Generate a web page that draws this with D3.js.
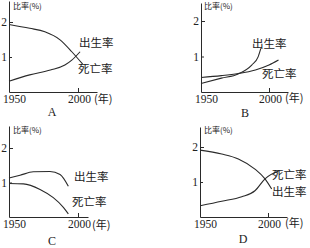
<!DOCTYPE html>
<html><head><meta charset="utf-8">
<script src="https://cdn.jsdelivr.net/npm/d3@7"></script>
<style>
html,body{margin:0;padding:0;background:#fff;}
svg{display:block;}
.cn{font-family:"Noto Sans CJK SC","Noto Sans",sans-serif;fill:#222;}
.num{font-family:"Liberation Serif","DejaVu Serif",serif;fill:#222;}
</style>
</head><body>
<svg id="c" width="310" height="248"></svg>
<script>
// ---- data ----
const panelLetters = ["A", "B", "C", "D"];
const yTickValues = [1, 2];
const xTickValues = [1950, 2000];
const yearUnitLabel = "(年)";
const yAxisTitle = "比率(%)";
const birthLabel = "出生率";
const deathLabel = "死亡率";

// Panel A
const aBirthYears = [1950, 1965, 1980, 1990.5, 1995.5, 2001.5];
const aBirthValues = [0.31, 0.49, 0.63, 0.77, 0.91, 1.15];
const aDeathYears = [1950, 1965, 1976, 1987, 1995.5, 2003.3];
const aDeathValues = [1.93, 1.82, 1.72, 1.49, 1.15, 0.8];
// Panel B
const bBirthYears = [1950, 1965, 1977.4, 1987.3, 1992, 1994];
const bBirthValues = [0.24, 0.39, 0.51, 0.76, 0.99, 1.23];
const bDeathYears = [1950, 1965, 1977.4, 1990, 2000, 2007];
const bDeathValues = [0.41, 0.46, 0.52, 0.62, 0.76, 0.9];
// Panel C
const cBirthYears = [1950, 1958, 1967.6, 1979.7, 1987, 1993];
const cBirthValues = [1.13, 1.21, 1.31, 1.32, 1.23, 0.89];
const cDeathYears = [1950, 1960.4, 1972.5, 1982.1, 1989.4, 1993];
const cDeathValues = [0.97, 0.96, 0.8, 0.56, 0.28, 0.09];
// Panel D
const dBirthYears = [1950, 1966, 1978.2, 1990.4, 1997.8, 2002.7];
const dBirthValues = [1.91, 1.8, 1.66, 1.37, 1.09, 0.8];
const dDeathYears = [1950, 1966, 1980.7, 1990.4, 1997.8, 2008];
const dDeathValues = [0.32, 0.45, 0.58, 0.75, 1.09, 1.32];

// ---- layout ----
const panels = [
  {letter: panelLetters[0], ox: 9, oy: 92, x2000: 78, xEnd: 97, y2: 22, top: 1,
   series: [[aBirthYears, aBirthValues], [aDeathYears, aDeathValues]],
   labels: [[birthLabel, 79, 46.5], [deathLabel, 78, 73]],
   title: [13, 8.7], unit: [94, 103], letterPos: [52, 116]},
  {letter: panelLetters[1], ox: 201, oy: 92, x2000: 269, xEnd: 288, y2: 21, top: 3,
   series: [[bBirthYears, bBirthValues], [bDeathYears, bDeathValues]],
   labels: [[birthLabel, 252, 47.5], [deathLabel, 262, 77.5]],
   title: [204, 8.7], unit: [285, 102], letterPos: [245, 116.5]},
  {letter: panelLetters[2], ox: 9, oy: 217, x2000: 78, xEnd: 88, y2: 148, top: 126,
   series: [[cBirthYears, cBirthValues], [cDeathYears, cDeathValues]],
   labels: [[birthLabel, 74, 180.5], [deathLabel, 72, 205.5]],
   title: [13, 133], unit: [92, 229], letterPos: [52, 244.5]},
  {letter: panelLetters[3], ox: 200, oy: 217, x2000: 268, xEnd: 287, y2: 147, top: 127,
   series: [[dBirthYears, dBirthValues], [dDeathYears, dDeathValues]],
   labels: [[deathLabel, 272, 179], [birthLabel, 272, 196]],
   title: [204, 133], unit: [285, 227], letterPos: [243, 243]}
];

const svg = d3.select("#c");
const ink = "#2a2a2a";

panels.forEach(p => {
  const g = svg.append("g");
  const x = d3.scaleLinear().domain([1950, 2000]).range([p.ox, p.x2000]);
  const y = d3.scaleLinear().domain([0, 2]).range([p.oy, p.y2]);

  // axes (extended domains so axis lines reach their ends)
  const xAx = x.copy().domain([1950, x.invert(p.xEnd)]).range([p.ox, p.xEnd]);
  const yAx = y.copy().domain([0, y.invert(p.top)]).range([p.oy, p.top]);

  const gx = g.append("g").attr("transform", `translate(0,${p.oy})`)
    .call(d3.axisBottom(xAx).tickValues(xTickValues).tickFormat(d3.format("d"))
      .tickSizeInner(-4).tickSizeOuter(0).tickPadding(3));
  gx.select(".domain").attr("stroke", ink);
  gx.selectAll(".tick line").attr("stroke", ink);
  gx.selectAll(".tick text").attr("class", "num").attr("font-size", 11.5)
    .attr("font-family", null).attr("fill", null)
    .attr("dx", d => d === 1950 ? 5 : 1);

  const gy = g.append("g").attr("transform", `translate(${p.ox},0)`)
    .call(d3.axisLeft(yAx).tickValues(yTickValues).tickFormat(d3.format("d"))
      .tickSizeInner(-4).tickSizeOuter(0).tickPadding(2));
  gy.select(".domain").attr("stroke", ink);
  gy.selectAll(".tick line").attr("stroke", ink);
  gy.selectAll(".tick text").attr("class", "num").attr("font-size", 11.5)
    .attr("font-family", null).attr("fill", null);
  gy.selectAll(".tick").filter(d => d === 1).select("line").attr("x2", 3);

  const line = d3.line().x(d => x(d[0])).y(d => y(d[1])).curve(d3.curveMonotoneX);
  p.series.forEach(([yrs, vals]) => {
    g.append("path").datum(yrs.map((yr, i) => [yr, vals[i]]))
      .attr("d", line).attr("fill", "none").attr("stroke", ink).attr("stroke-width", 1.1);
  });

  p.labels.forEach(([t, lx, ly]) => {
    g.append("text").attr("class", "cn").attr("x", lx).attr("y", ly)
      .attr("font-size", 11.5).text(t);
  });
  g.append("text").attr("class", "cn").attr("x", p.title[0]).attr("y", p.title[1])
    .attr("font-size", 8).text(yAxisTitle);
  g.append("text").attr("class", "cn").attr("x", p.unit[0]).attr("y", p.unit[1])
    .attr("font-size", 11).text(yearUnitLabel);
  g.append("text").attr("class", "num").attr("x", p.letterPos[0]).attr("y", p.letterPos[1])
    .attr("text-anchor", "middle").attr("font-size", 12).text(p.letter);
});
</script>
</body></html>
